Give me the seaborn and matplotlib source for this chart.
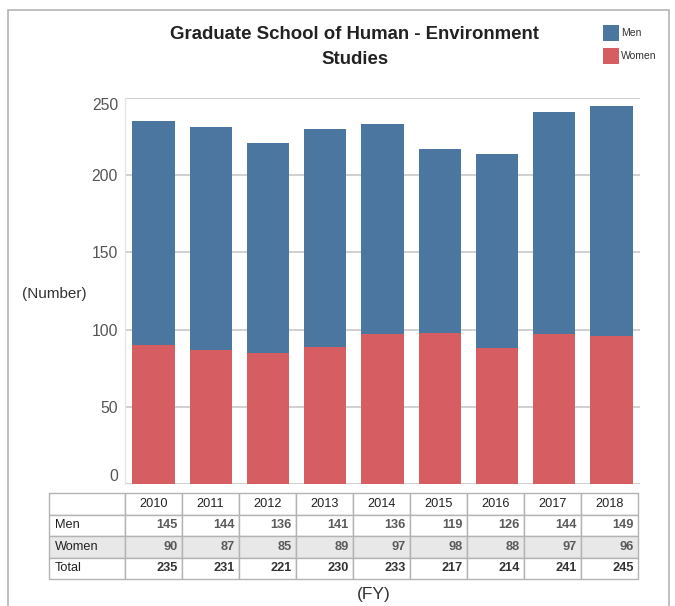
import pandas as pd
import numpy as np
import matplotlib
matplotlib.use("Agg")
import matplotlib.pyplot as plt
import seaborn as sns
from matplotlib.patches import Rectangle

years = ['2010', '2011', '2012', '2013', '2014', '2015', '2016', '2017', '2018']
men = [145, 144, 136, 141, 136, 119, 126, 144, 149]
women = [90, 87, 85, 89, 97, 98, 88, 97, 96]
total = [235, 231, 221, 230, 233, 217, 214, 241, 245]

df = pd.DataFrame({'year': years, 'men': men, 'women': women, 'total': total})

sns.set_style("white")
plt.rcParams['font.family'] = ['Liberation Sans', 'DejaVu Sans']

blue = '#4a76a0'
red = '#d65e63'

W, H = 675, 606
fig = plt.figure(figsize=(6.75, 6.06), dpi=100)

# outer frame
fig.patches.append(Rectangle((8 / W, -0.01), 661 / W, (606 - 10) / H + 0.01,
                             transform=fig.transFigure, fill=False,
                             edgecolor='#b5b5b5', linewidth=1.2))

ax = fig.add_axes([125 / W, (606 - 484) / H, 515 / W, (484 - 98) / H])
# stacked bars: total in blue, women over it in red
sns.barplot(data=df, x='year', y='total', color=blue, width=0.74, ax=ax,
            saturation=1, edgecolor='none')
sns.barplot(data=df, x='year', y='women', color=red, width=0.74, ax=ax,
            saturation=1, edgecolor='none')
ax.set_ylim(0, 250)
ax.set_xlim(-0.5, 8.5)
ax.set_yticks([0, 50, 100, 150, 200, 250])
ax.yaxis.grid(True, color='#c4c4c4', linewidth=1.1)
ax.set_axisbelow(True)
ax.set_xticks([])
ax.set_xlabel('')
ax.set_ylabel('')
ax.tick_params(axis='y', length=0, pad=5, labelsize=11.3, labelcolor='#555555')
# end labels sit inside the range, like the original
ylabs = ax.get_yticklabels()
ylabs[0].set_va('bottom')
ylabs[-1].set_va('top')
for s in ['top', 'right', 'bottom']:
    ax.spines[s].set_visible(False)
ax.spines['left'].set_color('#e6e6e6')
ax.spines['left'].set_linewidth(1)

fig.text(54 / W, 1 - 294 / H, '(Number)', ha='center', va='center',
         fontsize=11, color='#333333')

fig.text(355 / W, 1 - 47 / H, 'Graduate School of Human - Environment\nStudies',
         ha='center', va='center', fontsize=13.4, fontweight='bold',
         color='#222222', linespacing=1.6)

# legend
for i, (lab, c) in enumerate([('Men', blue), ('Women', red)]):
    y0 = 41 + i * 23
    fig.patches.append(Rectangle((603 / W, 1 - y0 / H), 16 / W, 16 / H,
                                 transform=fig.transFigure, facecolor=c,
                                 edgecolor='none'))
    fig.text(621 / W, 1 - (y0 - 8) / H, lab, ha='left', va='center',
             fontsize=7.5, color='#333333')

# data table
tax = fig.add_axes([49 / W, (606 - 579) / H, 589 / W, 86 / H])
tax.axis('off')
cell_text = [[''] + years,
             ['Men'] + [str(v) for v in men],
             ['Women'] + [str(v) for v in women],
             ['Total'] + [str(v) for v in total]]
col_w = [76 / 589] + [57 / 589] * 9
tbl = tax.table(cellText=cell_text, colWidths=col_w, bbox=[0, 0, 1, 1],
                cellLoc='right')
tbl.auto_set_font_size(False)
for (r, c), cell in tbl.get_celld().items():
    cell.set_edgecolor('#b3b3b3')
    cell.set_linewidth(1.0)
    txt = cell.get_text()
    txt.set_fontsize(9.2)
    cell.PAD = 0.08
    if r == 2:
        cell.set_facecolor('#e8e8e8')
    if c == 0:
        txt.set_ha('left')
        cell._loc = 'left'
        txt.set_color('#222222')
    elif r == 0:
        cell._loc = 'center'
        txt.set_ha('center')
        txt.set_color('#222222')
    else:
        txt.set_fontweight('bold')
        txt.set_color('#333333' if r == 3 else '#5a5a5a')

fig.text(374 / W, 1 - 595 / H, '(FY)', ha='center', va='center',
         fontsize=12.5, color='#333333')

fig.savefig('out.png', dpi=100)
